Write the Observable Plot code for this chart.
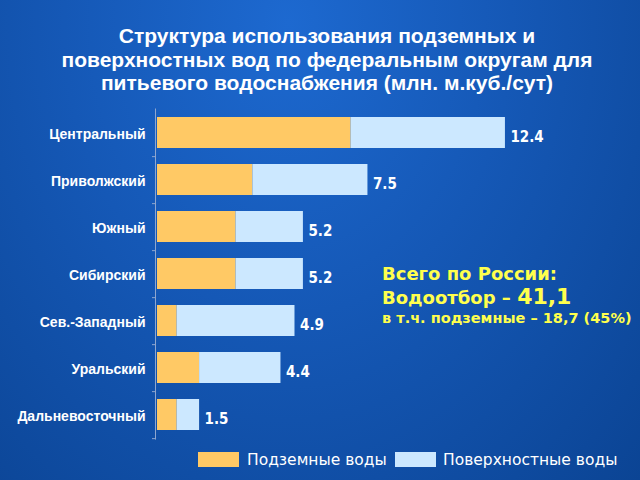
<!DOCTYPE html>
<html>
<head>
<meta charset="utf-8">
<script src="https://cdn.jsdelivr.net/npm/d3@7"></script>
<script src="https://cdn.jsdelivr.net/npm/@observablehq/plot@0.6"></script>
<style>
  html, body { margin: 0; padding: 0; }
  #page {
    position: relative; width: 640px; height: 480px; overflow: hidden;
    background: radial-gradient(ellipse at 45% 5%, #1d69d0 0%, #1558b6 45%, #0b4494 100%);
  }
  #title {
    position: absolute; left: 0; top: 24px; width: 654px; text-align: center;
    font-family: "Liberation Sans", Arial, sans-serif; font-weight: bold;
    font-size: 21px; line-height: 23.5px; color: #ffffff;
  }
  #chart { position: absolute; left: 0; top: 0; }
  .note { position: absolute; left: 382px; white-space: nowrap; color: #ffff4d;
    font-family: "DejaVu Sans", Verdana, sans-serif; font-weight: bold; }
  .legtext { position: absolute; white-space: nowrap; color: #ffffff;
    font-family: "DejaVu Sans", Verdana, sans-serif; font-size: 15.5px; line-height: 15.5px; }
  .swatch { position: absolute; width: 41px; height: 15px; }
</style>
</head>
<body>
<div id="page">
  <div id="chart"></div>
  <div id="title">Структура использования подземных и<br>поверхностных вод по федеральным округам для<br>питьевого водоснабжения (млн. м.куб./сут)</div>
  <div class="note" style="top:265px; font-size:18px; line-height:18px;">Всего по России:</div>
  <div class="note" style="top:285.5px; font-size:18px; line-height:22px;">Водоотбор – <span style="font-size:22px; line-height:22px;">41,1</span></div>
  <div class="note" style="top:311px; font-size:14.5px; line-height:14.5px;">в т.ч. подземные – 18,7 (45%)</div>
</div>
<script>
const districts = ["Центральный", "Приволжский", "Южный", "Сибирский", "Сев.-Западный", "Уральский", "Дальневосточный"];
const groundwater = [6.9, 3.4, 2.8, 2.8, 0.7, 1.5, 0.7];
const surfaceWater = [5.5, 4.1, 2.4, 2.4, 4.2, 2.9, 0.8];
const totalLabels = ["12.4", "7.5", "5.2", "5.2", "4.9", "4.4", "1.5"];
const seriesNames = ["Подземные воды", "Поверхностные воды"];
const seriesColors = ["#ffc965", "#cce8ff"];

const rows = [];
districts.forEach((d, i) => {
  rows.push({district: d, series: seriesNames[0], value: groundwater[i]});
  rows.push({district: d, series: seriesNames[1], value: surfaceWater[i]});
});
const totals = districts.map((d, i) => ({district: d, total: groundwater[i] + surfaceWater[i], label: totalLabels[i]}));

const chart = Plot.plot({
  width: 640,
  height: 480,
  marginLeft: 157,
  marginRight: 6,
  marginTop: 108.5,
  marginBottom: 40.4,
  style: {background: "transparent", color: "#ffffff", fontFamily: "'Liberation Sans', Arial, sans-serif"},
  x: {domain: [0, 17], axis: null},
  y: {domain: districts, paddingInner: 0.334, paddingOuter: 0.167, label: null},
  color: {domain: seriesNames, range: seriesColors},
  marks: [
    Plot.barX(rows, {x: "value", y: "district", fill: "series"}),
    Plot.ruleX([0], {dx: -2, stroke: "#8ea6cf", strokeWidth: 1}),
    Plot.axisY({text: null, tickSize: 3, dy: 23.65, dx: -2, stroke: "#8ea6cf"}),
    Plot.axisY({tickSize: 0, tickPadding: 12, fontSize: 14, fontWeight: "bold", dy: 2, fill: "#ffffff"}),
    Plot.text(totals, {x: "total", y: "district", text: "label", dx: 5, dy: 4, textAnchor: "start",
      fill: "#ffffff", fontSize: 15, fontWeight: "bold", fontFamily: "'DejaVu Sans Condensed', 'DejaVu Sans', sans-serif"})
  ]
});
document.getElementById("chart").appendChild(chart);

// legend built from the same series arrays
const page = document.getElementById("page");
const legendSwatchX = [198, 395];
const legendTextX = [247, 443];
seriesNames.forEach((name, i) => {
  const sw = document.createElement("div");
  sw.className = "swatch";
  sw.style.left = legendSwatchX[i] + "px";
  sw.style.top = "452px";
  sw.style.background = seriesColors[i];
  page.appendChild(sw);
  const t = document.createElement("div");
  t.className = "legtext";
  t.style.left = legendTextX[i] + "px";
  t.style.top = "453px";
  t.textContent = name;
  page.appendChild(t);
});
</script>
</body>
</html>
